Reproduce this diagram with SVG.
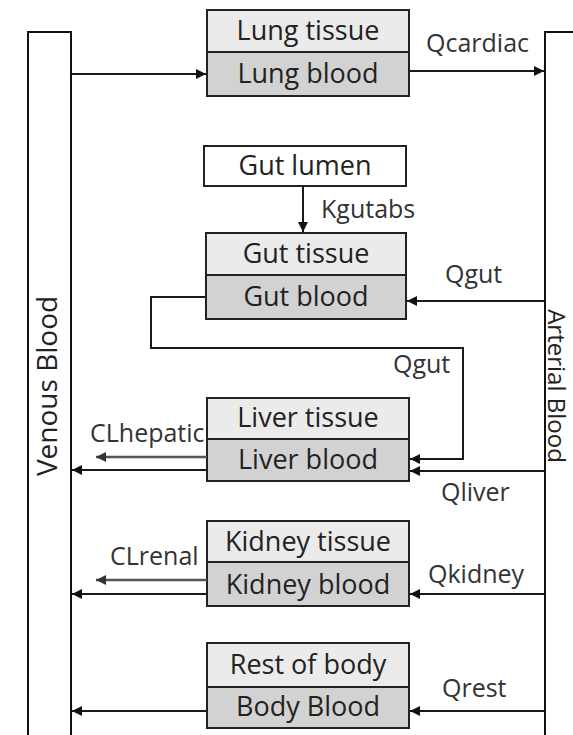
<svg xmlns="http://www.w3.org/2000/svg" width="573" height="735" viewBox="0 0 573 735">
<style>
.bar{fill:#fff;stroke:#111;stroke-width:2}
.tis{fill:#ebebeb;stroke:#222;stroke-width:2}
.bld{fill:#d2d2d2;stroke:#222;stroke-width:2}
.wht{fill:#fff;stroke:#222;stroke-width:2}
.bt{font-family:"Open Sans","Liberation Sans",sans-serif;font-size:27px;fill:#222;text-anchor:middle}
.lb{font-family:"Open Sans","Liberation Sans",sans-serif;font-size:25px;fill:#333}
.ln{fill:none;stroke:#1a1a1a;stroke-width:2}
.gl{fill:none;stroke:#555;stroke-width:2.5}
</style>
<defs>
<marker id="ah" viewBox="0 0 10 10" refX="10" refY="5" markerWidth="12" markerHeight="10" markerUnits="userSpaceOnUse" orient="auto"><path d="M0,0 L10,5 L0,10 z" fill="#111"/></marker>
<marker id="ahg" viewBox="0 0 10 10" refX="10" refY="5" markerWidth="12" markerHeight="10" markerUnits="userSpaceOnUse" orient="auto"><path d="M0,0 L10,5 L0,10 z" fill="#333"/></marker>
</defs>
<g id="venous">
<rect class="bar" x="28" y="32" width="43" height="720"/>
<text class="bt" transform="translate(57,386) rotate(-90)" style="font-size:28px">Venous Blood</text>
</g>
<g id="arterial">
<rect class="bar" x="545" y="32" width="60" height="720"/>
<text class="bt" transform="translate(548,386) rotate(90)" style="font-size:24px">Arterial Blood</text>
</g>
<g id="lung">
<rect class="tis" x="207" y="10" width="202" height="42"/>
<rect class="bld" x="207" y="52" width="202" height="44"/>
<text class="bt" x="308" y="40">Lung tissue</text>
<text class="bt" x="308" y="83">Lung blood</text>
</g>
<g id="gutlumen">
<rect class="wht" x="204" y="146" width="202" height="40"/>
<text class="bt" x="305" y="175">Gut lumen</text>
</g>
<g id="gut">
<rect class="tis" x="206" y="233" width="200" height="42"/>
<rect class="bld" x="206" y="275" width="200" height="44"/>
<text class="bt" x="306" y="263">Gut tissue</text>
<text class="bt" x="306" y="306">Gut blood</text>
</g>
<g id="liver">
<rect class="tis" x="207" y="398" width="202" height="41"/>
<rect class="bld" x="207" y="439" width="202" height="42"/>
<text class="bt" x="308" y="427">Liver tissue</text>
<text class="bt" x="308" y="469">Liver blood</text>
</g>
<g id="kidney">
<rect class="tis" x="207" y="521" width="202" height="41"/>
<rect class="bld" x="207" y="562" width="202" height="44"/>
<text class="bt" x="308" y="551">Kidney tissue</text>
<text class="bt" x="308" y="594">Kidney blood</text>
</g>
<g id="rest">
<rect class="tis" x="207" y="643" width="202" height="44"/>
<rect class="bld" x="207" y="687" width="202" height="41"/>
<text class="bt" x="308" y="674">Rest of body</text>
<text class="bt" x="308" y="716">Body Blood</text>
</g>
<g id="connectors">
<line class="ln" x1="71" y1="74" x2="206" y2="74" marker-end="url(#ah)"/>
<line class="ln" x1="409" y1="71" x2="544" y2="71" marker-end="url(#ah)"/>
<line class="ln" x1="303" y1="186" x2="303" y2="232" marker-end="url(#ah)"/>
<line class="ln" x1="545" y1="301" x2="407" y2="301" marker-end="url(#ah)"/>
<polyline class="ln" points="206,297 151,297 151,348 463,348 463,459 410,459" marker-end="url(#ah)"/>
<line class="ln" x1="207" y1="470" x2="72" y2="470" marker-end="url(#ah)"/>
<line class="gl" x1="207" y1="457" x2="96" y2="457" marker-end="url(#ahg)"/>
<line class="ln" x1="545" y1="471" x2="410" y2="471" marker-end="url(#ah)"/>
<line class="ln" x1="207" y1="594" x2="72" y2="594" marker-end="url(#ah)"/>
<line class="gl" x1="207" y1="580" x2="96" y2="580" marker-end="url(#ahg)"/>
<line class="ln" x1="545" y1="594" x2="410" y2="594" marker-end="url(#ah)"/>
<line class="ln" x1="207" y1="711" x2="72" y2="711" marker-end="url(#ah)"/>
<line class="ln" x1="545" y1="711" x2="410" y2="711" marker-end="url(#ah)"/>
</g>
<g id="labels">
<text class="lb" x="426" y="52">Qcardiac</text>
<text class="lb" x="321" y="218">Kgutabs</text>
<text class="lb" x="445" y="283">Qgut</text>
<text class="lb" x="393" y="373">Qgut</text>
<text class="lb" x="90" y="442">CLhepatic</text>
<text class="lb" x="110" y="565">CLrenal</text>
<text class="lb" x="441" y="501">Qliver</text>
<text class="lb" x="428" y="583">Qkidney</text>
<text class="lb" x="442" y="697">Qrest</text>
</g>
</svg>
